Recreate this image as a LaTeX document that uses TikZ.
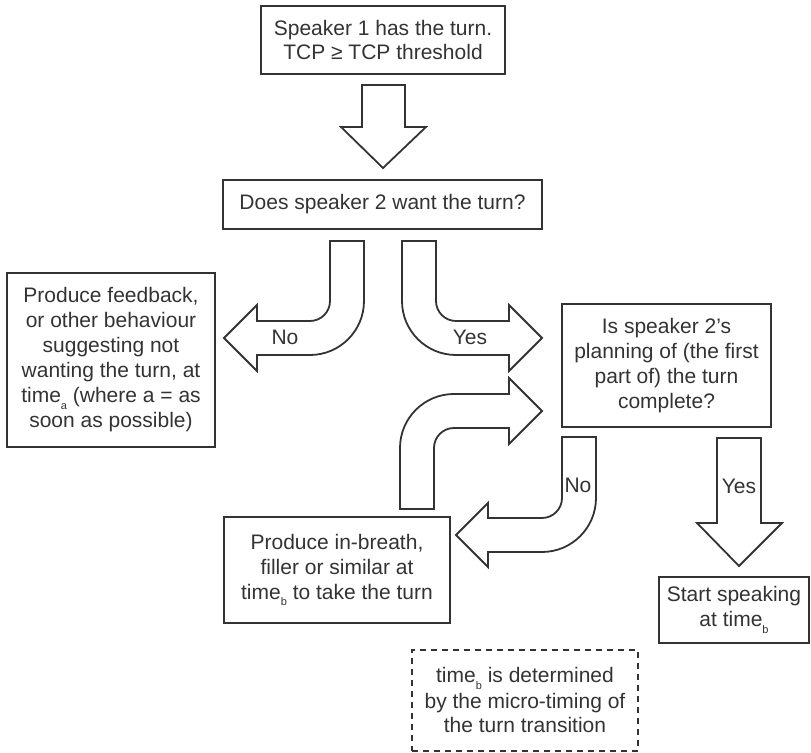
\documentclass[tikz,border=0pt]{standalone}
\usepackage{fontspec}
\setmainfont{Liberation Sans}
\definecolor{ink}{HTML}{333333}
\newcommand{\idx}[1]{\raisebox{-0.6ex}{\fontsize{5.5}{6}\selectfont #1}}
\tikzset{
  box/.style = {draw = ink, line width = 1pt, text = ink, align = center, inner sep = 0,
                font = \fontsize{10.5}{12.5}\selectfont},
  dashbox/.style = {box, dash pattern = on 3pt off 2.5pt},
  blockarrow/.style = {draw = ink, line width = 0.9pt, fill = white, line join = miter},
  lbl/.style = {text = ink, inner sep = 0, font = \fontsize{10.5}{12.5}\selectfont}
}
\begin{document}
\begin{tikzpicture}[x = 0.5pt, y = -0.5pt]
  \useasboundingbox (0, 0) rectangle (811, 753);

  % boxes
  \node [box, minimum width = 122pt, minimum height = 34pt] (start) at (383, 40)
    {Speaker 1 has the turn.\\TCP ≥ TCP threshold};
  \node [box, minimum width = 159.5pt, minimum height = 24.5pt] (want) at (382.5, 204.5)
    {Does speaker 2 want the turn?};
  \node [box, minimum width = 104pt, minimum height = 87pt] (feedback) at (111, 360)
    {Produce feedback,\\or other behaviour\\suggesting not\\wanting the turn, at\\time\idx{a} (where a = as\\soon as possible)};
  \node [box, minimum width = 104.5pt, minimum height = 61.5pt] (planned) at (666.5, 365.5)
    {Is speaker 2’s\\planning of (the first\\part of) the turn\\complete?};
  \node [box, minimum width = 113pt, minimum height = 53pt] (filler) at (337, 570)
    {Produce in-breath,\\filler or similar at\\time\idx{b} to take the turn};
  \node [box, minimum width = 75pt, minimum height = 33pt] (speak) at (734, 610)
    {Start speaking\\at time\idx{b}};
  \node [dashbox, minimum width = 113pt, minimum height = 50.5pt] (note) at (525, 700.5)
    {time\idx{b} is determined\\by the micro-timing of\\the turn transition};

  % block arrows
  \draw [blockarrow] (362, 85) -- (405, 85) -- (405, 127) -- (426, 127) -- (383, 168)
    -- (341, 127) -- (362, 127) -- cycle;

  \draw [blockarrow] (330, 241) -- (364, 241) -- (364, 301)
    arc [start angle = 0, end angle = -90, radius = 27pt] -- (257, 355) -- (257, 371)
    -- (224, 338) -- (257, 305) -- (257, 321) -- (310, 321)
    arc [start angle = -90, end angle = 0, radius = 10pt] -- cycle;

  \draw [blockarrow] (402, 241) -- (436, 241) -- (436, 301)
    arc [start angle = 180, end angle = 270, radius = 10pt] -- (509, 321) -- (509, 305)
    -- (542, 338) -- (509, 371) -- (509, 355) -- (456, 355)
    arc [start angle = 270, end angle = 180, radius = 27pt] -- cycle;

  \draw [blockarrow] (400, 509) -- (434, 509) -- (434, 448)
    arc [start angle = 180, end angle = 90, radius = 10pt] -- (509, 428) -- (509, 444)
    -- (542, 411) -- (509, 378) -- (509, 394) -- (454, 394)
    arc [start angle = 90, end angle = 180, radius = 27pt] -- cycle;

  \draw [blockarrow] (562, 437) -- (596, 437) -- (596, 498)
    arc [start angle = 0, end angle = -90, radius = 27pt] -- (488, 552) -- (488, 567)
    -- (456, 535) -- (488, 503) -- (488, 518) -- (542, 518)
    arc [start angle = -90, end angle = 0, radius = 10pt] -- cycle;

  \draw [blockarrow] (717, 438) -- (761, 438) -- (761, 523) -- (782, 523) -- (739, 566)
    -- (697, 523) -- (717, 523) -- cycle;

  % arrow labels
  \node [lbl] (no1) at (285, 337) {No};
  \node [lbl] (yes1) at (470, 337) {Yes};
  \node [lbl] (no2) at (578, 485) {No};
  \node [lbl] (yes2) at (739, 486) {Yes};
\end{tikzpicture}
\end{document}
